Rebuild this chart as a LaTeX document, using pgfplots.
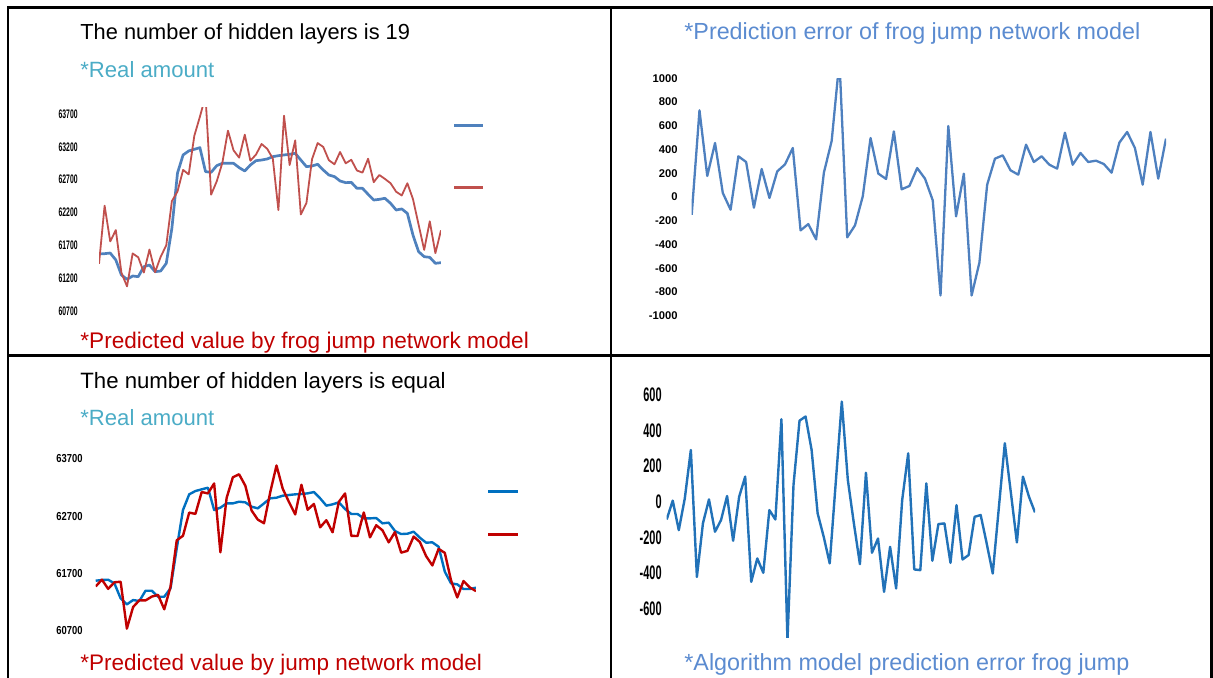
\documentclass[border=0pt]{standalone}
\usepackage{pgfplots}
\usepackage{pgfplotstable}
\pgfplotsset{compat=1.18}
\usepackage{fontspec}
\setmainfont{Liberation Sans}
\newfontfamily\tickA{Liberation Sans}[FakeStretch=0.55]
\newfontfamily\tickB{Liberation Sans}
\newfontfamily\tickC{Liberation Sans}[FakeStretch=0.81]
\newfontfamily\tickD{Liberation Sans}[FakeStretch=0.56]

\definecolor{xlblue}{HTML}{4F81BD}
\definecolor{xlred}{HTML}{C0504D}
\definecolor{brblue}{HTML}{0070C0}
\definecolor{brred}{HTML}{C00000}
\definecolor{aqua}{HTML}{4BACC6}
\definecolor{errblue}{HTML}{4E80BF}
\definecolor{errblue2}{HTML}{2272B8}
\definecolor{titleblue}{HTML}{5B8BD0}

% panel 1: real amount / predicted, 19 hidden layers
\pgfplotstableread{
i real pred
0 61568 61418
1 61573 62303
2 61583 61760
3 61477 61932
4 61248 61282
5 61182 61075
6 61233 61576
7 61223 61518
8 61375 61285
9 61400 61636
10 61299 61291
11 61309 61525
12 61426 61701
13 61960 62373
14 62800 62519
15 63076 62848
16 63137 62780
17 63162 63367
18 63187 63659
19 62822 63972
20 62812 62472
21 62913 62674
22 62949 62955
23 62949 63446
24 62949 63146
25 62883 63035
26 62832 63385
27 62923 62988
28 62989 63082
29 62999 63243
30 63015 63170
31 63050 63022
32 63065 62236
33 63076 63674
34 63086 62923
35 63101 63298
36 62999 62170
37 62898 62345
38 62908 63012
39 62934 63257
40 62847 63198
41 62771 62996
42 62746 62934
43 62680 63121
44 62654 62949
45 62659 63002
46 62568 62840
47 62568 62807
48 62477 63019
49 62390 62662
50 62400 62771
51 62416 62711
52 62340 62646
53 62238 62516
54 62254 62459
55 62187 62645
56 61857 62405
57 61604 62017
58 61527 61631
59 61517 62065
60 61426 61581
61 61436 61928
}\tabA

% panel 2: prediction error
\pgfplotstableread{
i err
0 -150
1 730
2 177
3 455
4 34
5 -107
6 343
7 295
8 -90
9 236
10 -8
11 216
12 275
13 413
14 -281
15 -228
16 -357
17 205
18 472
19 1150
20 -340
21 -239
22 6
23 497
24 197
25 152
26 553
27 65
28 93
29 244
30 155
31 -28
32 -829
33 598
34 -163
35 197
36 -829
37 -553
38 104
39 323
40 351
41 225
42 188
43 441
44 295
45 343
46 272
47 239
48 542
49 272
50 371
51 295
52 306
53 278
54 205
55 458
56 548
57 413
58 104
59 548
60 155
61 492
}\tabB

% panel 3: real amount / predicted, equal hidden layers
\pgfplotstableread{
i real pred
0 61574 61474
1 61586 61592
2 61591 61431
3 61527 61546
4 61265 61556
5 61160 60737
6 61236 61114
7 61219 61232
8 61399 61230
9 61399 61296
10 61294 61326
11 61294 61074
12 61440 61468
13 62139 62280
14 62809 62358
15 63083 62764
16 63141 62741
17 63170 63123
18 63199 63099
19 62809 63273
20 62850 62070
21 62925 63019
22 62925 63381
23 62954 63433
24 62943 63234
25 62867 62801
26 62838 62641
27 62925 62578
28 63013 63122
29 63024 63587
30 63059 63181
31 63071 62949
32 63083 62732
33 63088 63251
34 63100 62813
35 63123 62916
36 63013 62506
37 62885 62631
38 62908 62420
39 62943 62952
40 62826 63098
41 62739 62358
42 62739 62354
43 62663 62766
44 62663 62331
45 62669 62543
46 62576 62454
47 62588 62244
48 62442 62423
49 62389 62064
50 62395 62095
51 62430 62345
52 62325 62250
53 62238 62003
54 62244 61840
55 62168 62130
56 61731 62060
57 61527 61578
58 61510 61281
59 61428 61569
60 61428 61456
61 61452 61392
}\tabC

% panel 4: prediction error
\pgfplotstableread{
i err
0 -100
1 6
2 -160
3 19
4 291
5 -423
6 -122
7 13
8 -169
9 -103
10 32
11 -220
12 28
13 141
14 -451
15 -319
16 -400
17 -47
18 -100
19 464
20 -780
21 94
22 456
23 479
24 291
25 -66
26 -197
27 -347
28 109
29 563
30 122
31 -122
32 -351
33 163
34 -287
35 -207
36 -507
37 -254
38 -488
39 9
40 272
41 -381
42 -385
43 103
44 -332
45 -126
46 -122
47 -344
48 -19
49 -325
50 -300
51 -85
52 -75
53 -235
54 -404
55 -38
56 329
57 51
58 -229
59 141
60 28
61 -60
}\tabD

\pgfplotsset{
  panel/.style={
    scale only axis, anchor=south west,
    axis line style={draw=none},
    xtick=\empty, major tick length=0pt,
    xmin=0, xmax=61,
    scaled y ticks=false,
    yticklabel style={anchor=east, inner sep=0pt},
    every axis plot/.append style={line join=round},
  },
}

\begin{document}
\begin{tikzpicture}
\useasboundingbox (0,0) rectangle (606.5pt,338.5pt);

% table rules
\draw[line width=1.2pt] (3.9pt,-5pt) -- (3.9pt,334.85pt) -- (605.75pt,334.85pt) -- (605.75pt,-5pt);
\draw[line width=1.2pt] (305.5pt,-5pt) -- (305.5pt,334.85pt);
\draw[line width=1.2pt] (3.9pt,160.75pt) -- (605.75pt,160.75pt);

% panel 1
\node[anchor=base west, inner sep=0pt, font=\fontsize{10.9}{12}\selectfont] at (40pt,318.85pt) {The number of hidden layers is 19};
\node[anchor=base west, inner sep=0pt, text=aqua, font=\fontsize{11.05}{12}\selectfont] at (40pt,299.75pt) {*Real amount};
\node[anchor=base west, inner sep=0pt, text=brred, font=\fontsize{11.3}{12}\selectfont] at (40pt,164.5pt) {*Predicted value by frog jump network model};
\begin{axis}[panel, at={(49.5pt,183pt)}, width=171pt, height=101.8pt,
  ymin=60700, ymax=63800,
  ytick={60700,61200,61700,62200,62700,63200,63700},
  yticklabels={60700,61200,61700,62200,62700,63200,63700},
  yticklabel style={xshift=-10.5pt, font=\fontsize{6.2}{7}\tickA\bfseries}]
  \addplot[xlblue, line width=1.35pt] table[x=i, y=real] {\tabA};
  \addplot[xlred, line width=0.9pt] table[x=i, y=pred] {\tabA};
\end{axis}
\draw[xlblue, line width=1.6pt] (227pt,275.65pt) -- (241.5pt,275.65pt);
\draw[xlred, line width=1.6pt] (227pt,244.85pt) -- (241.5pt,244.85pt);

% panel 2
\node[anchor=base west, inner sep=0pt, text=titleblue, font=\fontsize{11.65}{12}\selectfont] at (342pt,318.85pt) {*Prediction error of frog jump network model};
\begin{axis}[panel, at={(345.85pt,180.65pt)}, width=237.15pt, height=118.7pt,
  ymin=-1000, ymax=1000,
  ytick={-1000,-800,-600,-400,-200,0,200,400,600,800,1000},
  yticklabels={-1000,-800,-600,-400,-200,0,200,400,600,800,1000},
  yticklabel style={xshift=-6.85pt, font=\fontsize{5.6}{6}\tickB\bfseries}]
  \addplot[errblue, line width=1.15pt] table[x=i, y=err] {\tabB};
\end{axis}

% panel 3
\node[anchor=base west, inner sep=0pt, font=\fontsize{11.1}{12}\selectfont] at (40pt,144.35pt) {The number of hidden layers is equal};
\node[anchor=base west, inner sep=0pt, text=aqua, font=\fontsize{11.05}{12}\selectfont] at (40pt,126pt) {*Real amount};
\node[anchor=base west, inner sep=0pt, text=brred, font=\fontsize{11.25}{12}\selectfont] at (40pt,3.5pt) {*Predicted value by jump network model};
\begin{axis}[panel, at={(47.85pt,23.15pt)}, width=190.15pt, height=85.85pt,
  ymin=60700, ymax=63700,
  ytick={60700,61700,62700,63700},
  yticklabels={60700,61700,62700,63700},
  yticklabel style={xshift=-6.35pt, font=\fontsize{5.8}{6}\tickC\bfseries}]
  \addplot[brblue, line width=1.2pt] table[x=i, y=real] {\tabC};
  \addplot[brred, line width=1.2pt] table[x=i, y=pred] {\tabC};
\end{axis}
\draw[brblue, line width=1.5pt] (244pt,92.65pt) -- (259pt,92.65pt);
\draw[brred, line width=1.5pt] (244pt,71.5pt) -- (259pt,71.5pt);

% panel 4
\begin{axis}[panel, at={(333.35pt,19.65pt)}, width=184.15pt, height=121.35pt,
  ymin=-765, ymax=600,
  ytick={-600,-400,-200,0,200,400,600},
  yticklabels={-600,-400,-200,0,200,400,600},
  yticklabel style={xshift=-2.35pt, font=\fontsize{9.8}{10}\tickD\bfseries}]
  \addplot[errblue2, line width=1.2pt] table[x=i, y=err] {\tabD};
\end{axis}
\node[anchor=base west, inner sep=0pt, text=titleblue, font=\fontsize{11.67}{12}\selectfont] at (342pt,3.5pt) {*Algorithm model prediction error frog jump};

\end{tikzpicture}
\end{document}
